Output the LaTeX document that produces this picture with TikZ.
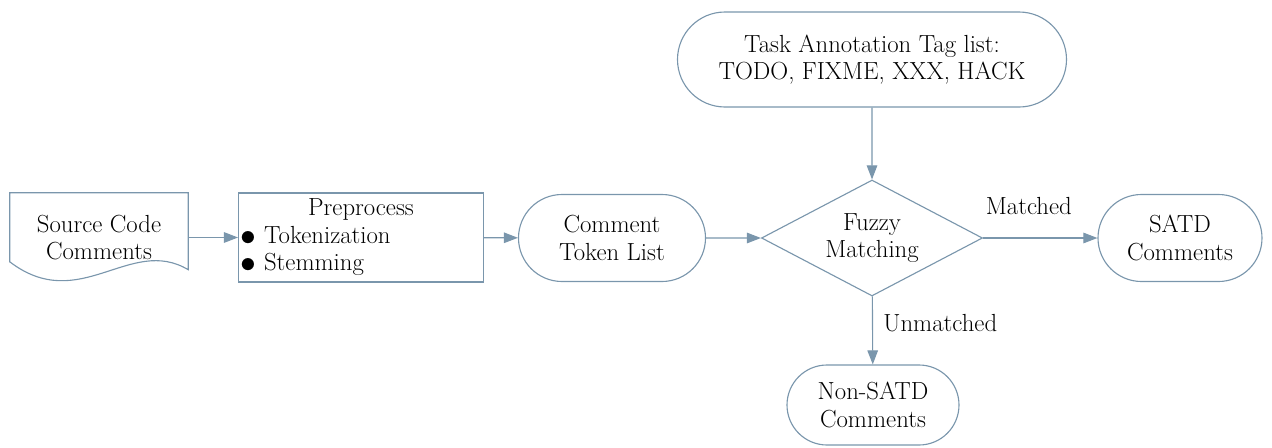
\documentclass[tikz,border=0pt]{standalone}
\usetikzlibrary{arrows.meta,shapes.geometric,shapes.misc}
\definecolor{linec}{RGB}{122,150,172}
\newcommand{\bigdot}{\raisebox{-0.08em}[0pt][0pt]{\scalebox{1.3}{$\bullet$}}}
\begin{document}
\begin{tikzpicture}
    [x=0.025cm,y=-0.025cm,
     every node/.style={font=\fontsize{17.6}{19.6}\selectfont,align=center},
     pre/.style={<-,shorten <=0pt,>={Triangle[length=10pt,width=7.5pt]},draw=linec,line width=0.8pt},
     term/.style={rounded rectangle,draw=linec,line width=0.8pt,inner sep=0pt}]
    \useasboundingbox (0,0) rectangle (1272,448);
    \node [minimum width=178*0.025cm,minimum height=89*0.025cm,inner sep=0pt] (doc) at (99,237.5)
      {Source Code\\Comments};
    \draw [linec,line width=0.8pt] (doc.south west) ++(0,-20) -- (doc.north west) -- (doc.north east)
      -- ++(0,77) .. controls (130,235) and (80,315) .. (10,262);
    \node [draw=linec,line width=0.8pt,minimum width=244*0.025cm,minimum height=89*0.025cm,
      text width=242*0.025cm,align=left,inner xsep=1pt,inner ysep=0pt] (prep) at (361,237.5)
      {\makebox[\linewidth]{Preprocess}\\\bigdot\ Tokenization\\\bigdot\ Stemming}
      edge [pre] (doc);
    \node [term,minimum width=187*0.025cm,minimum height=87*0.025cm] (toks) at (612,238)
      {Comment\\Token List}
      edge [pre] (prep);
    \node [term,minimum width=389*0.025cm,minimum height=95*0.025cm] (tags) at (872,59.5)
      {Task Annotation Tag list:\\TODO, FIXME, XXX, HACK};
    \node [diamond,aspect=1.9,draw=linec,line width=0.8pt,minimum width=221*0.025cm,minimum height=116*0.025cm,
      inner sep=0pt] (fuzzy) at (872,238) {Fuzzy\\Matching}
      edge [pre] (toks)
      edge [pre] (tags);
    \node [term,minimum width=164*0.025cm,minimum height=87*0.025cm] (satd) at (1180,238)
      {SATD\\Comments}
      edge [pre] node[above=13pt,pos=0.6] {Matched} (fuzzy);
    \node [term,minimum width=172*0.025cm,minimum height=80*0.025cm] (nonsatd) at (873,405)
      {Non-SATD\\Comments}
      edge [pre] node[right=4pt,pos=0.6] {Unmatched} (fuzzy);
  \end{tikzpicture}
\end{document}
